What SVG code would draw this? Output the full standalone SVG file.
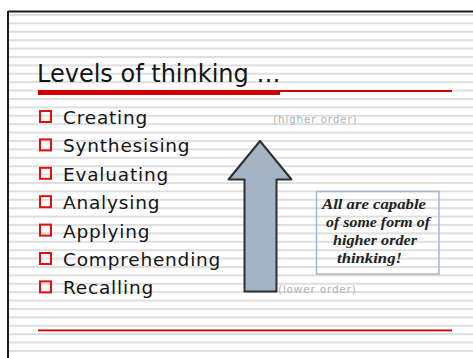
<svg xmlns="http://www.w3.org/2000/svg" width="473" height="358" viewBox="0 0 473 358">
  <style>
    .item { font-family: "DejaVu Sans", Verdana, sans-serif; font-size: 18.5px; letter-spacing: 0.8px; fill: #151515; }
    .bullet { fill: none; stroke: #e01010; stroke-width: 2; }
    .hint { font-family: "DejaVu Sans", Verdana, sans-serif; font-size: 10.5px; letter-spacing: 0.8px; fill: #b4b4b4; }
    .note { font-family: "Liberation Serif", "Times New Roman", serif; font-style: italic; font-weight: bold; font-size: 15.5px; fill: #222; }
  </style>
  <defs>
    <pattern id="stripes" x="0" y="14" width="473" height="8.4" patternUnits="userSpaceOnUse">
      <rect x="0" y="0" width="473" height="2" fill="#dedede"/>
    </pattern>
  </defs>
  <rect x="0" y="0" width="473" height="358" fill="#ffffff"/>
  <g id="slide">
    <rect x="9" y="12" width="464" height="346" fill="url(#stripes)"/>
    <line x1="8" y1="11.5" x2="473" y2="11.5" stroke="#1a1a1a" stroke-width="2"/>
    <line x1="8" y1="11" x2="8" y2="358" stroke="#1a1a1a" stroke-width="2"/>
  </g>
  <g id="title">
    <text x="37" y="82" font-family="DejaVu Sans, Verdana, sans-serif" font-size="24" fill="#151515">Levels of thinking …</text>
    <rect x="38" y="90" width="414" height="2" fill="#d00000"/>
    <rect x="38" y="90" width="242" height="5" fill="#d00000"/>
  </g>
  <g id="list">
    <g id="item-creating"><rect class="bullet" x="40" y="111" width="11" height="11"/><text class="item" x="63" y="124">Creating</text></g>
    <g id="item-synthesising"><rect class="bullet" x="40" y="139.4" width="11" height="11"/><text class="item" x="63" y="152.4">Synthesising</text></g>
    <g id="item-evaluating"><rect class="bullet" x="40" y="167.8" width="11" height="11"/><text class="item" x="63" y="180.8">Evaluating</text></g>
    <g id="item-analysing"><rect class="bullet" x="40" y="196.2" width="11" height="11"/><text class="item" x="63" y="209.2">Analysing</text></g>
    <g id="item-applying"><rect class="bullet" x="40" y="224.6" width="11" height="11"/><text class="item" x="63" y="237.6">Applying</text></g>
    <g id="item-comprehending"><rect class="bullet" x="40" y="253" width="11" height="11"/><text class="item" x="63" y="266">Comprehending</text></g>
    <g id="item-recalling"><rect class="bullet" x="40" y="281.4" width="11" height="11"/><text class="item" x="63" y="294.4">Recalling</text></g>
  </g>
  <g id="arrow">
    <path d="M260,141 L291.5,179.5 L276.5,179.5 L276.5,291.5 L244.5,291.5 L244.5,179.5 L228.5,179.5 Z" fill="#a5b4c5" stroke="#2e2e2e" stroke-width="2" stroke-linejoin="round"/>
  </g>
  <g id="higher-order">
    <text class="hint" x="273" y="122.5">(higher order)</text>
  </g>
  <g id="lower-order">
    <text class="hint" x="278" y="293">(lower order)</text>
  </g>
  <g id="note">
    <rect x="316.5" y="191.5" width="122.5" height="82.5" fill="none" stroke="#a7b6cb" stroke-width="1.5"/>
    <text class="note" x="322" y="209" textLength="104" lengthAdjust="spacingAndGlyphs">All are capable</text>
    <text class="note" x="326" y="227" textLength="104" lengthAdjust="spacingAndGlyphs">of some form of</text>
    <text class="note" x="333" y="245" textLength="84" lengthAdjust="spacingAndGlyphs">higher order</text>
    <text class="note" x="337" y="263" textLength="65" lengthAdjust="spacingAndGlyphs">thinking!</text>
  </g>
  <g id="footer">
    <rect x="38" y="329.5" width="414" height="1.8" fill="#d00000"/>
  </g>
</svg>
